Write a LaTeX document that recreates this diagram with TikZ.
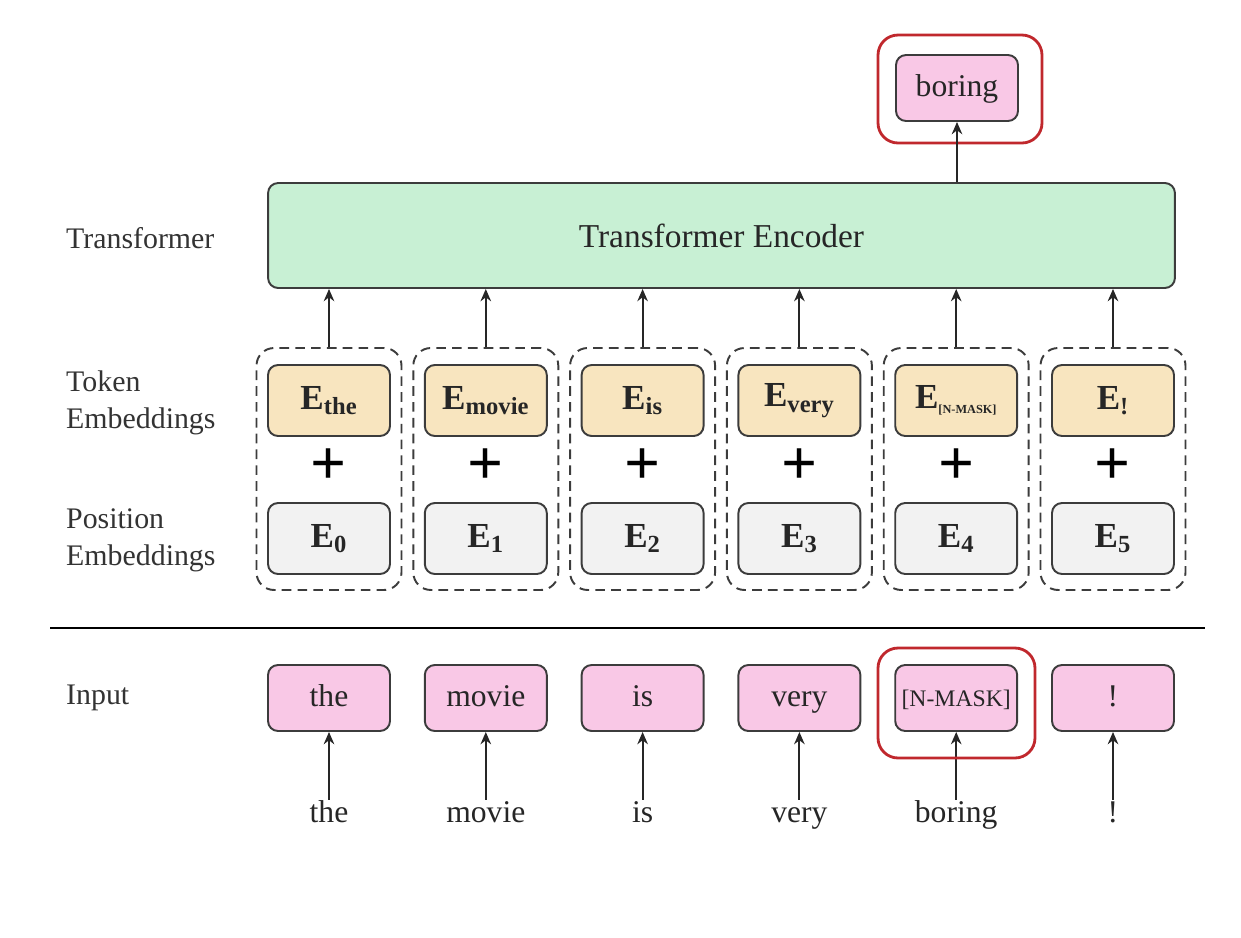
\documentclass[tikz,border=0pt]{standalone}
\usepackage{fontspec}
\setmainfont{Liberation Serif}
\usepackage{tikz}
\usetikzlibrary{positioning, calc, arrows.meta}
\definecolor{boxline}{HTML}{3C3C3C}
\definecolor{tokfill}{HTML}{F8E5BF}
\definecolor{posfill}{HTML}{F2F2F2}
\definecolor{infill}{HTML}{F9C8E6}
\definecolor{encfill}{HTML}{C8F0D4}
\definecolor{maskred}{HTML}{C0282D}
\tikzstyle{every box}=[draw=boxline, line width=1.1pt, rounded corners=0.2cm, minimum width=2.44cm, text=black!85]
\tikzstyle{token emb}=[every box, fill=tokfill, minimum height=1.42cm, font=\bfseries\fontsize{20}{22}\selectfont]
\tikzstyle{pos emb}=[every box, fill=posfill, minimum height=1.42cm, font=\bfseries\fontsize{20}{22}\selectfont]
\tikzstyle{input tok}=[every box, fill=infill, minimum height=1.32cm, text height=2ex, text depth=0ex, font=\fontsize{18}{20}\selectfont]
\tikzstyle{word}=[text height=2ex, text depth=0ex, text=black!85, font=\fontsize{18}{20}\selectfont]
\tikzstyle{group}=[draw=boxline, dashed, dash pattern=on 5.5pt off 3.5pt, line width=1.1pt, rounded corners=0.35cm, minimum width=2.9cm, minimum height=4.84cm]
\tikzstyle{mask ring}=[draw=maskred, line width=1.6pt, rounded corners=0.4cm]
\tikzstyle{side label}=[anchor=west, align=left, text=black!80, font=\fontsize{17}{21}\selectfont]
\tikzstyle{arrow}=[-{Stealth[length=7pt,width=6pt]}, line width=1.1pt, draw=black!85]

\begin{document}
\begin{tikzpicture}[x=0.02cm, y=-0.02cm]
    \useasboundingbox (0,0) rectangle (1241,937);

    % encoder and predicted word
    \node [every box, fill=encfill, minimum width=18.14cm, minimum height=2.1cm,
           font=\fontsize{19}{21}\selectfont] (enc) at (721.5,235.5) {Transformer Encoder};
    \node [input tok, minimum height=1.32cm] (out) at (957,88) {boring};
    \node [mask ring, minimum width=3.28cm, minimum height=2.16cm] (out-ring) at (960,89) {};
    \draw [arrow] (enc.north -| out) -- (out);

    % embeddings and inputs, one column per token
    \foreach \sub/\tok/\word [count=\i from 0] in {the/the/the, movie/movie/movie, is/is/is, very/very/very, {\fontsize{7}{8}\selectfont[N-MASK]}/{\fontsize{13.5}{15}\selectfont[N-MASK]}/boring, !/!/!}
    {
    \node [group] (grp-\i) at (329+156.8*\i,469) {};
    \node [token emb] (tok-\i) at (329+156.8*\i,400.5) {E\textsubscript{\sub}};
    \node [font=\bfseries\fontsize{36}{36}\selectfont] (plus-\i) at (329+156.8*\i,467) {+};
    \node [pos emb] (pos-\i) at (329+156.8*\i,538.5) {E\textsubscript{\i}};
    \draw [arrow] (grp-\i.north) -- (grp-\i.north |- enc.south);

    \node [input tok] (in-\i) at (329+156.8*\i,698) {\tok};
    \node [word] (word-\i) at (329+156.8*\i,814) {\word};
    \draw [arrow] (word-\i) -- (in-\i);
    }

    \node [mask ring, minimum width=3.14cm, minimum height=2.2cm] (in-ring) at (956.5,703) {};

    % separator
    \draw [line width=1.5pt] (50,628) -- (1205,628);

    % row labels
    \node [side label] (lab-enc) at (60,238) {Transformer};
    \node [side label] (lab-tok) at (60,403) {Token\\Embeddings};
    \node [side label] (lab-pos) at (60,540) {Position\\Embeddings};
    \node [side label] (lab-in) at (60,698) {Input};

  \end{tikzpicture}
\end{document}
